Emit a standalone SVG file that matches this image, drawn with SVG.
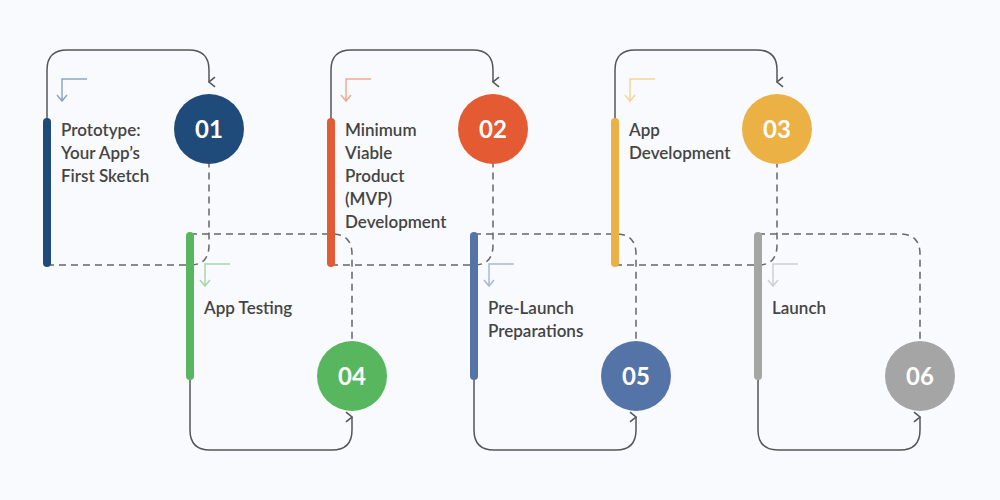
<svg xmlns="http://www.w3.org/2000/svg" width="1000" height="500" viewBox="0 0 1000 500">
<defs>
<marker id="ar" viewBox="0 0 10 10" refX="5" refY="8" markerWidth="12" markerHeight="12" markerUnits="userSpaceOnUse" orient="auto-start-reverse"><path d="M1,3 L5,8 L9,3" fill="none" stroke="#555" stroke-width="1.3"/></marker>
<style>
.sol{fill:none;stroke:#555;stroke-width:1.5}
.dash{fill:none;stroke:#666;stroke-width:1.5;stroke-dasharray:7 5}
.lbl{font-family:Lato,"Noto Sans",sans-serif;font-weight:600;font-size:17px;fill:#444}
.num{font-family:Lato,"Noto Sans",sans-serif;font-weight:700;font-size:24px;fill:#fff}
.ic{fill:none;stroke-width:1.5}
</style>
</defs>
<rect width="1000" height="500" fill="#f8fafd"/>
<g id="connectors">
<path class="dash" d="M47,265 H190 Q209,265 209,245 V164"/>
<path class="dash" d="M331,265 H474 Q493,265 493,245 V164"/>
<path class="dash" d="M615,265 H758 Q777,265 777,245 V164"/>
<path class="dash" d="M190,234 H332 Q352,234 352,254 V341"/>
<path class="dash" d="M474,234 H616 Q636,234 636,254 V341"/>
<path class="dash" d="M758,234 H900 Q920,234 920,254 V341"/>
<path class="sol" marker-end="url(#ar)" d="M47,122 V70 Q47,50 67,50 H189 Q209,50 209,70 V82"/>
<path class="sol" marker-end="url(#ar)" d="M331,122 V70 Q331,50 351,50 H473 Q493,50 493,70 V82"/>
<path class="sol" marker-end="url(#ar)" d="M615,122 V70 Q615,50 635,50 H757 Q777,50 777,70 V82"/>
<path class="sol" marker-end="url(#ar)" d="M190,380 V430 Q190,450 210,450 H332 Q352,450 352,430 V417"/>
<path class="sol" marker-end="url(#ar)" d="M474,380 V430 Q474,450 494,450 H616 Q636,450 636,430 V417"/>
<path class="sol" marker-end="url(#ar)" d="M758,380 V430 Q758,450 778,450 H900 Q920,450 920,430 V417"/>
</g>
<g id="node1">
<path class="ic" stroke="#8ea6c4" d="M87,79 H62 V101 M57,95 L62,101 L67,95"/>
<rect x="43" y="118" width="8" height="149" rx="4" fill="#1f4b7a"/>
<circle cx="209" cy="129" r="35" fill="#1f4b7a"/><text class="num" x="209" y="138" text-anchor="middle">01</text>
<text class="lbl" x="61" y="136">Prototype:<tspan x="61" dy="23">Your App’s</tspan><tspan x="61" dy="23">First Sketch</tspan></text>
</g>
<g id="node2">
<path class="ic" stroke="#eeaa96" d="M371,79 H346 V101 M341,95 L346,101 L351,95"/>
<rect x="327" y="118" width="8" height="149" rx="4" fill="#e35a33"/>
<circle cx="493" cy="129" r="35" fill="#e35a33"/><text class="num" x="493" y="138" text-anchor="middle">02</text>
<text class="lbl" x="345" y="136">Minimum<tspan x="345" dy="23">Viable</tspan><tspan x="345" dy="23">Product</tspan><tspan x="345" dy="23">(MVP)</tspan><tspan x="345" dy="23">Development</tspan></text>
</g>
<g id="node3">
<path class="ic" stroke="#f3d49c" d="M655,79 H630 V101 M625,95 L630,101 L635,95"/>
<rect x="611" y="118" width="8" height="149" rx="4" fill="#ebb144"/>
<circle cx="777" cy="129" r="35" fill="#ebb144"/><text class="num" x="777" y="138" text-anchor="middle">03</text>
<text class="lbl" x="629" y="136">App<tspan x="629" dy="23">Development</tspan></text>
</g>
<g id="node4">
<path class="ic" stroke="#a6d8a6" d="M230,264 H205 V286 M200,280 L205,286 L210,280"/>
<rect x="186" y="232" width="8" height="148" rx="4" fill="#58b75e"/>
<circle cx="352" cy="376" r="35" fill="#58b75e"/><text class="num" x="352" y="385" text-anchor="middle">04</text>
<text class="lbl" x="204" y="314">App Testing</text>
</g>
<g id="node5">
<path class="ic" stroke="#a9b9d4" d="M514,264 H489 V286 M484,280 L489,286 L494,280"/>
<rect x="470" y="232" width="8" height="148" rx="4" fill="#5474a8"/>
<circle cx="636" cy="376" r="35" fill="#5474a8"/><text class="num" x="636" y="385" text-anchor="middle">05</text>
<text class="lbl" x="488" y="314">Pre-Launch<tspan x="488" dy="23">Preparations</tspan></text>
</g>
<g id="node6">
<path class="ic" stroke="#d0d0d0" d="M798,264 H773 V286 M768,280 L773,286 L778,280"/>
<rect x="754" y="232" width="8" height="148" rx="4" fill="#a5a5a5"/>
<circle cx="920" cy="376" r="35" fill="#a5a5a5"/><text class="num" x="920" y="385" text-anchor="middle">06</text>
<text class="lbl" x="772" y="314">Launch</text>
</g>
</svg>
